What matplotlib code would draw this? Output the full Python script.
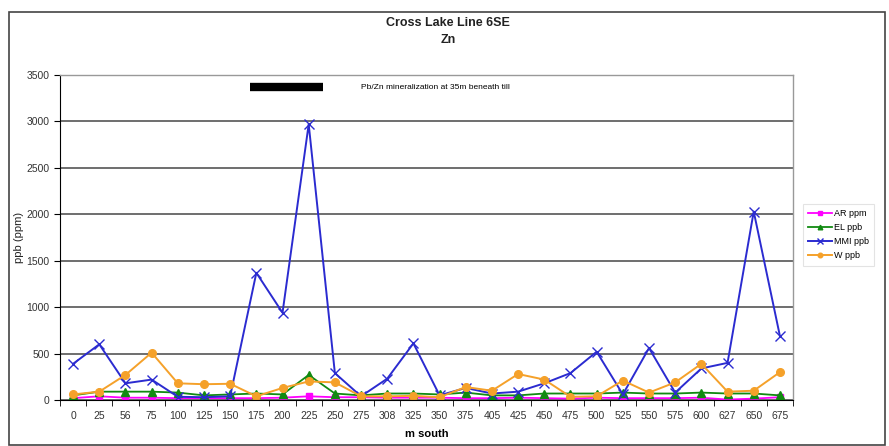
import matplotlib.pyplot as plt
from matplotlib.patches import Rectangle
import numpy as np

plt.rcParams['font.family'] = ['Liberation Sans', 'DejaVu Sans']

# --- data ---
stations = ['0', '25', '56', '75', '100', '125', '150', '175', '200', '225',
            '250', '275', '308', '325', '350', '375', '405', '425', '450', '475',
            '500', '525', '550', '575', '600', '627', '650', '675']
ar_ppm = [20, 40, 25, 25, 20, 20, 20, 20, 25, 40,
          30, 30, 25, 25, 25, 20, 20, 25, 20, 15,
          25, 20, 20, 20, 25, 5, 15, 30]
el_ppb = [50, 90, 90, 90, 80, 50, 60, 70, 60, 270,
          70, 50, 70, 70, 60, 80, 50, 50, 70, 70,
          70, 80, 70, 70, 80, 70, 70, 50]
mmi_ppb = [390, 600, 180, 220, 35, 30, 40, 1370, 940, 2970,
           290, 40, 230, 610, 50, 130, 70, 90, 180, 290,
           520, 60, 560, 80, 340, 400, 2030, 690]
w_ppb = [60, 90, 270, 510, 180, 170, 175, 40, 130, 200,
         190, 40, 40, 45, 30, 140, 100, 280, 220, 35,
         40, 210, 80, 190, 390, 90, 100, 300]

x = np.arange(len(stations))

fig = plt.figure(figsize=(8.89, 4.46), dpi=100)
ax = fig.add_axes([0.0675, 0.1031, 0.8245, 0.7287])

ax.plot(x, ar_ppm, color='#ff00ff', marker='s', ms=4.5, lw=1.3, label='AR ppm')
ax.plot(x, el_ppb, color='#118a11', marker='^', ms=5.5, lw=1.3, label='EL ppb')
ax.plot(x, mmi_ppb, color='#2b2bd0', marker='x', ms=7, mew=1.0, lw=1.4, label='MMI ppb')
ax.plot(x, w_ppb, color='#f5a12a', marker='o', ms=5.5, lw=1.4, label='W ppb')

ax.set_xlim(-0.5, len(stations) - 0.5)
ax.set_ylim(0, 3500)
ax.set_yticks(np.arange(0, 3501, 500))
ax.set_xticks(x)
ax.set_xticklabels(stations)
ax.set_xticks(np.arange(-0.5, len(stations), 1), minor=True)
ax.tick_params(axis='x', which='major', length=0, labelsize=7.5, pad=8, colors='#333333')
ax.tick_params(axis='x', which='minor', length=4, color='black')
ax.tick_params(axis='y', length=4, labelsize=7.5, colors='#333333')
ax.tick_params(axis='y', color='black')
ax.yaxis.grid(True, color='#555555', lw=1.2)
ax.set_axisbelow(True)

for side in ['top', 'right']:
    ax.spines[side].set_color('#999999')
    ax.spines[side].set_linewidth(1.0)
ax.spines['left'].set_color('black')
ax.spines['bottom'].set_color('black')

ax.set_xlabel('m south', fontsize=8, fontweight='bold', labelpad=6)
fig.text(19 / 889, 1 - 237 / 446, 'ppb (ppm)', rotation=90, ha='center', va='center',
         fontsize=8, color='#222222')

fig.text(0.504, 0.948, 'Cross Lake Line 6SE', ha='center', va='center',
         fontsize=9, fontweight='bold', color='#222222')
fig.text(0.504, 0.91, 'Zn', ha='center', va='center',
         fontsize=9, fontweight='bold', color='#222222')

# mineralization annotation bar
ax.plot([6.75, 9.55], [3370, 3370], color='black', lw=6, solid_capstyle='butt')
ax.text(11.0, 3370, 'Pb/Zn mineralization at 35m beneath till',
        fontsize=6, va='center', ha='left')

leg = fig.legend(loc='upper left', bbox_to_anchor=(0.898, 0.553), fontsize=6.5,
                 frameon=True, fancybox=False, handlelength=2.6, markerscale=0.6,
                 labelspacing=0.55, borderpad=0.6, handletextpad=0.2)
leg.get_frame().set_edgecolor('#dddddd')
leg.get_frame().set_linewidth(0.8)

# outer chart border
fig.patches.append(Rectangle((9 / 889, 1 - 445 / 446), 876 / 889, 433 / 446,
                             transform=fig.transFigure, fill=False,
                             edgecolor='#444444', lw=1.2))

fig.savefig('out.png', dpi=100)
